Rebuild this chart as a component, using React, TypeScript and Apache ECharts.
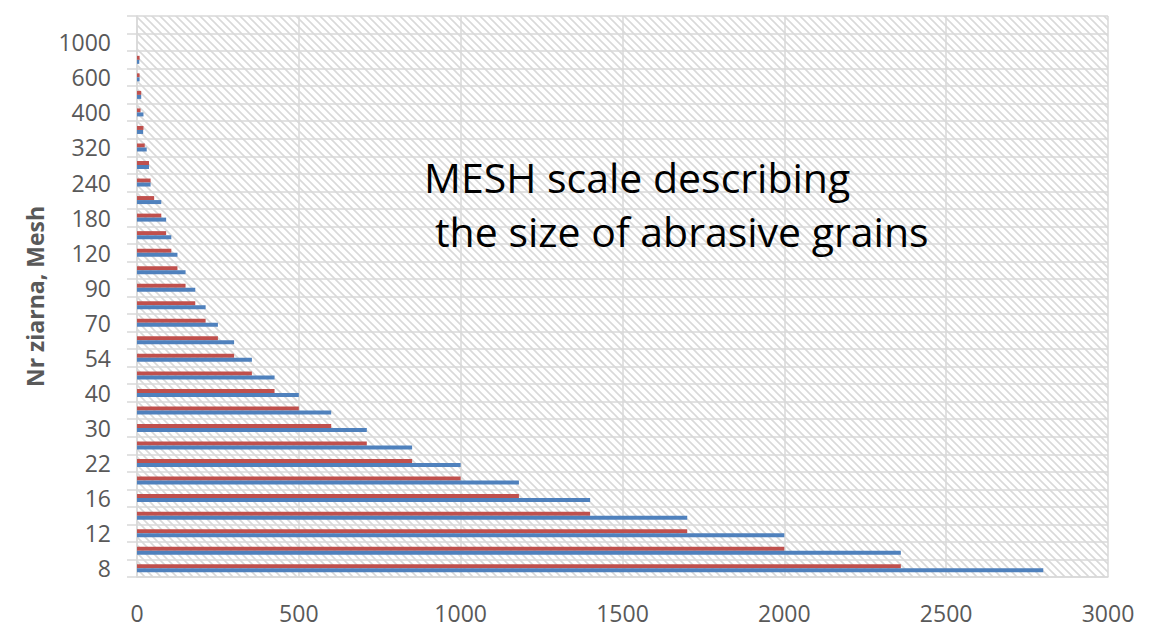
import React, { useEffect, useRef } from "react";
import * as echarts from "echarts";

const meshCategories = ["8", "10", "12", "14", "16", "20", "22", "24", "30", "36", "40", "46", "54", "60", "70", "80", "90", "100", "120", "150", "180", "220", "240", "280", "320", "360", "400", "500", "600", "800", "1000", "1200"];
const lowerSize = [2360, 2000, 1700, 1400, 1180, 1000, 850, 710, 600, 500, 425, 355, 300, 250, 212, 180, 150, 125, 106, 90, 75, 53, 42, 37, 24, 20, 11, 13, 8, 8, 0, 0];
const upperSize = [2800, 2360, 2000, 1700, 1400, 1180, 1000, 850, 710, 600, 500, 425, 355, 300, 250, 212, 180, 150, 125, 106, 90, 75, 42, 37, 30, 19, 20, 13, 8, 7, 0, 0];
const xTicks = { min: 0, max: 3000, interval: 500 };
const noteLine1 = "MESH scale describing";
const noteLine2 = "the size of abrasive grains";
const axisName = "Nr ziarna, Mesh";

function makeHatch(): HTMLCanvasElement {
  const c = document.createElement("canvas");
  const s = 8;
  c.width = s;
  c.height = s;
  const ctx = c.getContext("2d")!;
  ctx.fillStyle = "#ffffff";
  ctx.fillRect(0, 0, s, s);
  ctx.strokeStyle = "#d9d9d9";
  ctx.lineWidth = 1.6;
  ctx.beginPath();
  ctx.moveTo(-1, -1);
  ctx.lineTo(s + 1, s + 1);
  ctx.moveTo(-1, s - 1);
  ctx.lineTo(1, s + 1);
  ctx.moveTo(s - 1, -1);
  ctx.lineTo(s + 1, 1);
  ctx.stroke();
  return c;
}

export default function App() {
  const ref = useRef<HTMLDivElement>(null);
  useEffect(() => {
    document.body.style.margin = "0";
    if (!ref.current) return;
    const chart = echarts.init(ref.current, undefined, { renderer: "svg" });
    const font = "'Open Sans', 'Noto Sans', sans-serif";
    const gridColor = "#d9d9d9";
    const noteStyle = {
      color: "#000000",
      fontSize: 41,
      fontWeight: "normal",
      fontFamily: font,
      textBorderWidth: 0,
      textShadowBlur: 0,
    };
    chart.setOption({
      animation: false,
      backgroundColor: "#ffffff",
      title: [
        { text: noteLine1, left: 424, top: 156, padding: 0, textStyle: noteStyle },
        { text: noteLine2, left: 435, top: 210, padding: 0, textStyle: noteStyle },
      ],
      grid: {
        left: 137,
        right: 44,
        top: 16,
        bottom: 65,
        show: true,
        borderWidth: 0,
        backgroundColor: { image: makeHatch(), repeat: "repeat" },
      },
      xAxis: {
        type: "value",
        min: xTicks.min,
        max: xTicks.max,
        interval: xTicks.interval,
        axisLine: { show: true, lineStyle: { color: gridColor, width: 1.5 } },
        axisTick: { show: false },
        splitLine: { show: true, lineStyle: { color: gridColor, width: 1.5 } },
        axisLabel: {
          color: "#595959",
          fontSize: 23,
          fontFamily: font,
          margin: 24,
          formatter: (v: number) => String(v),
        },
      },
      yAxis: {
        type: "category",
        data: meshCategories,
        boundaryGap: true,
        name: axisName,
        nameLocation: "middle",
        nameGap: 91,
        nameTextStyle: { color: "#595959", fontSize: 23, fontWeight: "bold", fontFamily: font },
        axisLine: { show: true, lineStyle: { color: gridColor, width: 1.5 } },
        axisTick: { show: true, interval: 0, length: 10, lineStyle: { color: gridColor, width: 1.5 } },
        splitLine: { show: true, interval: 0, lineStyle: { color: gridColor, width: 1.5 } },
        axisLabel: { interval: 1, color: "#595959", fontSize: 23, fontFamily: font, margin: 26 },
      },
      series: [
        {
          type: "bar",
          name: "lower",
          data: lowerSize,
          barWidth: 4,
          barGap: "0%",
          itemStyle: { color: "#C0504D" },
        },
        {
          type: "bar",
          name: "upper",
          data: upperSize,
          barWidth: 4,
          barGap: "0%",
          itemStyle: { color: "#4F81BD" },
        },
      ],
    });
    return () => chart.dispose();
  }, []);
  return <div ref={ref} style={{ width: 1152, height: 642 }} />;
}
